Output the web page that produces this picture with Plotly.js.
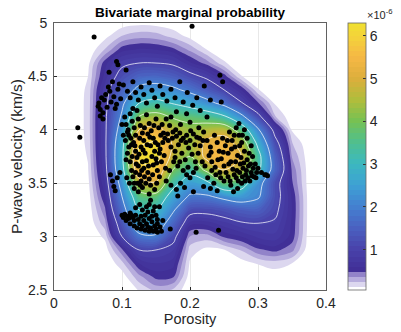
<!DOCTYPE html>
<html><head><meta charset="utf-8">
<script src="https://cdn.plot.ly/plotly-3.0.1.min.js"></script>
<style>html,body{margin:0;padding:0;background:#fff;}#chart{width:401px;height:332px;}</style>
</head><body><div id="chart"></div>
<script>
// Grid of the estimated bivariate density (values x 1e-6)
const porosityGrid = [0,0.025,0.05,0.075,0.1,0.125,0.15,0.175,0.2,0.225,0.25,0.275,0.3,0.325,0.35,0.375,0.4];
const velocityGrid = [2.5,2.625,2.75,2.875,3.0,3.125,3.25,3.375,3.5,3.625,3.75,3.875,4.0,4.125,4.25,4.375,4.5,4.625,4.75,4.875,5.0];
const density = [
  [0,0,0,0,0,0.13,0.28,0.22,0.02,0,0,0,0,0,0,0,0],
  [0,0,0,0,0.05,0.32,0.52,0.5,0.05,0,0,0,0.02,0.04,0.02,0,0],
  [0,0,0,0,0.2,0.6,0.72,0.65,0.1,0.02,0.03,0.06,0.13,0.18,0.12,0,0],
  [0,0,0,0.05,0.45,1.0,1.0,0.85,0.18,0.08,0.11,0.25,0.45,0.52,0.4,0.03,0],
  [0,0,0,0.15,1.0,1.8,1.9,1.15,0.35,0.3,0.5,0.6,0.75,0.8,0.55,0.05,0],
  [0,0,0.01,0.32,1.3,2.6,2.5,1.6,0.65,0.65,0.8,0.95,1.0,0.95,0.58,0.06,0],
  [0,0,0.03,0.45,1.7,3.0,3.0,2.1,1.2,1.15,1.25,1.45,1.5,1.1,0.6,0.06,0],
  [0,0,0.05,0.6,2.0,3.6,3.7,2.6,1.9,1.9,2.2,2.4,2.1,1.2,0.58,0.06,0],
  [0,0,0.08,0.72,2.3,4.6,4.9,3.3,2.5,2.8,3.8,3.5,2.3,1.2,0.5,0.05,0],
  [0,0,0.11,0.82,2.7,5.7,5.8,4.0,3.3,4.2,5.0,4.6,3.2,1.6,0.45,0.05,0],
  [0,0,0.13,0.88,2.8,6.2,6.3,4.7,4.0,5.3,5.6,5.0,3.3,1.5,0.35,0.04,0],
  [0,0,0.15,0.9,2.7,5.9,6.1,4.9,4.3,5.2,5.5,4.6,2.8,1.2,0.25,0.02,0],
  [0,0,0.16,0.9,2.4,5.0,5.3,4.6,4.3,4.5,4.6,3.6,2.1,0.8,0.1,0.01,0],
  [0,0,0.16,0.9,2.1,4.0,4.3,3.9,3.7,3.5,3.1,2.2,1.15,0.25,0.03,0,0],
  [0,0,0.16,0.85,1.85,3.0,3.25,2.95,2.65,2.25,1.75,1.05,0.5,0.1,0,0,0],
  [0,0,0.15,0.8,1.55,2.2,2.35,2.15,1.8,1.4,1.0,0.6,0.13,0.01,0,0,0],
  [0,0,0.12,0.65,1.2,1.55,1.6,1.45,1.15,0.9,0.55,0.13,0.01,0,0,0,0],
  [0,0,0.08,0.55,0.9,1.0,1.0,0.92,0.62,0.42,0.14,0.02,0,0,0,0,0],
  [0,0,0.02,0.25,0.55,0.62,0.6,0.52,0.33,0.12,0.02,0,0,0,0,0,0],
  [0,0,0,0.08,0.25,0.32,0.3,0.2,0.08,0.02,0,0,0,0,0,0,0],
  [0,0,0,0,0.05,0.08,0.07,0.04,0.02,0,0,0,0,0,0,0,0]
];
// Observed samples [porosity, P-wave velocity km/s]
const samplePoints = [
  [0.059,4.87],[0.203,4.97],[0.035,4.02],[0.038,3.93],[0.092,4.64],[0.094,4.61],[0.106,4.56],[0.081,4.54],
  [0.244,4.51],[0.248,4.45],[0.221,4.41],[0.246,4.26],[0.209,3.04],[0.242,3.06],[0.312,3.58],[0.205,3.42],[0.171,3.07],[0.182,3.38],
  [0.065,4.22],[0.066,4.25],[0.068,4.19],[0.07,4.3],[0.072,4.16],[0.074,4.28],[0.076,4.33],[0.078,4.21],[0.08,4.4],[0.082,4.36],
  [0.084,4.26],[0.086,4.45],[0.088,4.31],[0.09,4.2],[0.092,4.24],[0.094,4.38],[0.096,4.43],[0.098,4.29],[0.068,4.13],[0.072,4.1],
  [0.102,4.42],[0.108,4.36],[0.112,4.3],[0.116,4.45],[0.12,4.35],[0.124,4.28],[0.128,4.4],[0.132,4.33],[0.136,4.25],[0.14,4.44],
  [0.144,4.37],[0.148,4.3],[0.152,4.22],[0.156,4.41],[0.16,4.33],[0.166,4.27],[0.172,4.38],[0.178,4.3],[0.185,4.45],[0.19,4.26],
  [0.196,4.35],[0.204,4.23],[0.21,4.3],[0.23,4.28],[0.18,4.17],[0.195,4.15],[0.215,4.18],[0.225,4.12],
  [0.104,4.12],[0.106,4.05],[0.108,3.98],[0.105,3.9],[0.11,3.84],[0.108,3.78],[0.112,3.7],[0.114,3.62],[0.116,3.56],[0.118,3.5],
  [0.112,4.15],[0.115,4.08],[0.118,4.02],[0.12,3.95],[0.117,3.88],[0.12,3.8],[0.122,3.74],[0.124,3.66],[0.126,3.58],[0.128,3.52],
  [0.13,3.46],[0.124,4.1],[0.127,4.04],[0.13,3.97],[0.132,3.9],[0.128,3.84],[0.134,3.78],[0.136,3.71],[0.132,3.64],[0.138,3.6],
  [0.14,3.54],[0.142,3.48],[0.136,4.14],[0.14,4.06],[0.143,3.99],[0.146,3.92],[0.142,3.85],[0.148,3.8],[0.15,3.73],[0.146,3.67],
  [0.152,3.62],[0.155,3.56],[0.15,4.1],[0.154,4.02],[0.157,3.95],[0.16,3.88],[0.156,3.82],[0.162,3.76],[0.158,3.7],[0.164,3.64],
  [0.116,4.2],[0.122,4.18],[0.11,3.95],[0.114,3.86],[0.126,3.92],[0.138,3.96],[0.144,3.75],[0.153,3.86],[0.12,3.6],[0.13,3.7],
  [0.107,3.55],[0.111,3.5],[0.135,3.5],[0.148,3.44],[0.124,3.42],[0.14,3.4],
  [0.109,4.0],[0.113,3.92],[0.119,3.85],[0.121,3.68],[0.125,3.77],[0.129,3.62],[0.131,3.81],[0.133,3.56],[0.137,3.86],[0.139,3.66],
  [0.141,3.93],[0.145,3.58],[0.147,4.04],[0.149,3.88],[0.151,3.69],[0.155,3.78],[0.159,4.05],[0.161,3.97],[0.118,3.45],[0.123,3.5],
  [0.115,3.75],[0.127,3.48],[0.133,4.02],[0.151,3.5],[0.106,3.72],[0.102,3.95],[0.1,4.05],[0.163,3.92],
  [0.165,4.1],[0.17,4.04],[0.175,3.98],[0.18,3.94],[0.185,3.97],[0.19,3.92],[0.195,3.95],[0.2,3.9],[0.205,3.96],[0.21,3.93],
  [0.168,3.9],[0.172,3.84],[0.178,3.8],[0.183,3.86],[0.188,3.78],[0.193,3.72],[0.198,3.83],[0.203,3.77],[0.208,3.7],[0.176,3.7],
  [0.182,3.66],[0.19,3.62],[0.197,3.65],[0.205,3.6],[0.17,3.62],[0.186,4.05],[0.2,4.07],[0.213,4.02],[0.172,4.12],[0.215,3.85],[0.212,3.78],
  [0.167,3.96],[0.174,3.92],[0.179,4.0],[0.187,3.9],[0.194,3.88],[0.201,3.99],[0.207,3.86],[0.214,3.92],[0.219,3.9],[0.178,3.74],
  [0.185,3.7],[0.195,3.58],[0.209,3.64],
  [0.22,3.98],[0.225,3.9],[0.23,3.84],[0.228,3.76],[0.232,3.7],[0.236,3.95],[0.24,3.88],[0.243,3.8],[0.246,3.73],[0.25,3.66],
  [0.248,3.92],[0.252,3.85],[0.256,3.78],[0.26,3.7],[0.263,3.63],[0.258,3.98],[0.262,3.9],[0.266,3.84],[0.27,3.76],[0.274,3.68],
  [0.268,4.02],[0.272,3.95],[0.276,3.88],[0.28,3.8],[0.284,3.72],[0.278,3.64],[0.282,3.58],[0.286,3.66],[0.29,3.6],[0.294,3.56],
  [0.298,3.6],[0.288,3.52],[0.276,3.5],[0.27,3.45],[0.264,3.42],[0.256,3.56],[0.244,3.6],[0.238,3.58],[0.232,3.62],[0.222,3.66],
  [0.218,3.7],[0.226,3.55],[0.235,3.5],[0.25,3.52],[0.26,3.48],[0.268,3.55],[0.272,4.06],[0.28,4.0],[0.284,3.92],[0.29,3.85],
  [0.292,3.75],[0.296,3.68],[0.3,3.64],[0.305,3.6],[0.31,3.58],[0.314,3.57],
  [0.231,3.79],[0.237,3.65],[0.241,3.72],[0.245,3.55],[0.249,3.79],[0.253,3.6],[0.257,3.68],[0.259,3.52],[0.261,3.82],[0.265,3.58],
  [0.267,3.7],[0.269,3.62],[0.271,3.52],[0.273,3.6],[0.275,3.74],[0.277,3.56],[0.279,3.69],[0.281,3.52],[0.283,3.62],[0.285,3.55],
  [0.287,3.78],[0.289,3.68],[0.291,3.57],[0.293,3.64],[0.297,3.55],[0.273,3.85],[0.277,3.95],[0.265,3.95],[0.255,3.9],
  [0.165,3.52],[0.172,3.48],[0.18,3.44],[0.186,3.5],[0.192,3.46],[0.2,3.55],[0.22,3.47],[0.23,3.45],[0.24,3.43],
  [0.083,3.58],[0.086,3.52],[0.088,3.47],[0.09,3.43],[0.093,3.55],[0.097,3.6],
  [0.1,3.2],[0.104,3.21],[0.108,3.19],[0.112,3.22],[0.116,3.18],[0.12,3.2],[0.124,3.16],[0.128,3.19],[0.132,3.15],[0.136,3.12],
  [0.14,3.17],[0.144,3.14],[0.148,3.1],[0.152,3.12],[0.112,3.12],[0.118,3.1],[0.122,3.08],[0.128,3.07],[0.134,3.06],[0.14,3.05],
  [0.146,3.05],[0.152,3.04],[0.158,3.05],[0.13,3.25],[0.136,3.28],[0.14,3.3],[0.146,3.24],[0.15,3.2],[0.142,3.34],[0.126,3.3],
  [0.12,3.27],[0.155,3.28],[0.16,3.15],[0.106,3.15],
  [0.102,3.18],[0.11,3.17],[0.114,3.2],[0.118,3.15],[0.126,3.12],[0.13,3.1],[0.138,3.09],[0.142,3.08],[0.15,3.07],[0.156,3.09],
  [0.134,3.2],[0.138,3.23],[0.144,3.19],[0.148,3.28],[0.152,3.16]
];
const lineLevels = [1, 6, 1]; // start, end, step (x 1e-6)
const colorTicks = [1,2,3,4,5,6];

// colour stops by value (x 1e-6)
const cStart = 0.12, cSize = 0.12, cEnd = 6.25;
const colorStops = [
  [0.06,'rgba(255,255,255,0)'],[0.119,'rgba(255,255,255,0)'],
  [0.12,'#dcd7ef'],[0.239,'#dcd7ef'],[0.24,'#b7addd'],[0.359,'#b7addd'],[0.36,'#9283c9'],[0.479,'#9283c9'],
  [0.48,'#402c95'],[1.0,'#4942aa'],[1.5,'#4a60c0'],[2.0,'#4480d0'],[2.5,'#3ea0d4'],[3.0,'#3cb8c0'],
  [3.5,'#4fbf90'],[4.0,'#76c153'],[4.5,'#b0bd3c'],[5.0,'#dcae3c'],[5.5,'#f5b845'],[6.0,'#f4d43a'],[6.3,'#f0e030']
];
const nc = Math.floor((cEnd - cStart) / cSize + 1e-9) + 1;
const vLo = cStart - cSize/2, vHi = cStart + (nc - 0.5) * cSize;
const colorscale = colorStops.map(s => [Math.min(1, Math.max(0, (s[0]-vLo)/(vHi-vLo))), s[1]]);
colorscale[colorscale.length-1][0] = 1;

const font = 'Liberation Sans, Arial, Helvetica, sans-serif';
const traces = [
  {type:'contour', x:porosityGrid, y:velocityGrid, z:density, autocontour:false,
   contours:{start:cStart, end:cEnd, size:cSize, coloring:'fill', showlines:false},
   line:{width:0, smoothing:1}, colorscale:colorscale, hoverinfo:'skip',
   colorbar:{x:1.081, xanchor:'left', xref:'paper', y:0.5, yanchor:'middle', len:1.0, lenmode:'fraction',
     thickness:18, thicknessmode:'pixels', xpad:0, ypad:0, outlinewidth:0.8, outlinecolor:'#666',
     tickvals:colorTicks, ticks:'inside', ticklen:3, tickcolor:'#333',
     tickfont:{family:font, size:14, color:'#262626'}}},
  {type:'contour', x:porosityGrid, y:velocityGrid, z:density, autocontour:false, showscale:false,
   contours:{start:lineLevels[0], end:lineLevels[1], size:lineLevels[2], coloring:'none'},
   line:{color:'rgba(255,255,255,0.9)', width:0.8, smoothing:1}, hoverinfo:'skip'},
  {type:'scatter', mode:'markers', x:samplePoints.map(p=>p[0]), y:samplePoints.map(p=>p[1]),
   marker:{color:'#000', size:5}, hoverinfo:'skip', cliponaxis:false}
];
const axisCommon = {ticks:'inside', ticklen:3, tickcolor:'#262626', showline:true, mirror:true,
  linecolor:'#3a3a3a', linewidth:0.8, showgrid:true, gridcolor:'#e2e2e2', gridwidth:0.8, zeroline:false,
  tickfont:{family:font, size:14, color:'#262626'}};
const layout = {
  width:401, height:332, margin:{l:54, r:75, t:23, b:42, pad:0},
  paper_bgcolor:'#fff', plot_bgcolor:'#fff', showlegend:false,
  font:{family:font, size:13, color:'#262626'},
  title:{text:'<b>Bivariate marginal probability</b>', xref:'paper', x:0.5, xanchor:'center',
    yref:'container', y:0.962, yanchor:'middle', font:{family:font, size:13.5, color:'#000'}},
  xaxis:Object.assign({}, axisCommon, {range:[0,0.4], tick0:0, dtick:0.1,
    title:{text:'Porosity', font:{family:font, size:14.5, color:'#262626'}, standoff:3}}),
  yaxis:Object.assign({}, axisCommon, {range:[2.5,5], tick0:2.5, dtick:0.5, ticklabelstandoff:3,
    title:{text:'P-wave velocity (km/s)', font:{family:font, size:15.5, color:'#262626'}, standoff:1}}),
  annotations:[{text:'\u00d710<sup>-6</sup>', xref:'paper', yref:'paper', x:1.145, y:1.035,
    xanchor:'left', yanchor:'middle', showarrow:false, font:{family:font, size:11, color:'#262626'}}]
};
Plotly.newPlot('chart', traces, layout, {staticPlot:true, displayModeBar:false});
</script></body></html>
